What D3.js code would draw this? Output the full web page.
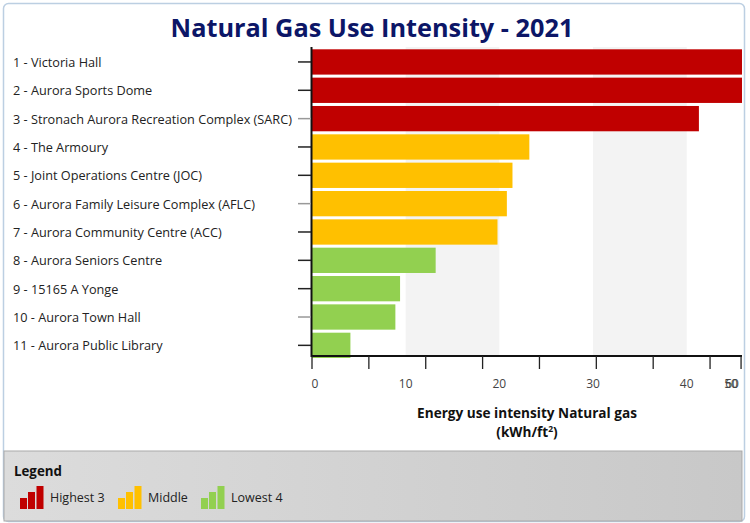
<!DOCTYPE html>
<html>
<head>
<meta charset="utf-8">
<script src="https://cdn.jsdelivr.net/npm/d3@7"></script>
<style>
  body { margin: 0; background: #fff; }
  text { font-family: "Open Sans", "Noto Sans", sans-serif; }
</style>
</head>
<body>
<div id="chart"></div>
<script>

// buildings, in rank order
var buildings = [
  "1 - Victoria Hall",
  "2 - Aurora Sports Dome",
  "3 - Stronach Aurora Recreation Complex (SARC)",
  "4 - The Armoury",
  "5 - Joint Operations Centre (JOC)",
  "6 - Aurora Family Leisure Complex (AFLC)",
  "7 - Aurora Community Centre (ACC)",
  "8 - Aurora Seniors Centre",
  "9 - 15165 A Yonge",
  "10 - Aurora Town Hall",
  "11 - Aurora Public Library"
];

// natural gas EUI, kWh/ft2 (top two run off the axis)
var gasUse = [45.9, 45.9, 41.3, 23.2, 21.4, 20.8, 19.8, 13.2, 9.4, 8.9, 4.1];

// group of each bar
var groups = ["Highest 3", "Highest 3", "Highest 3",
              "Middle", "Middle", "Middle", "Middle",
              "Lowest 4", "Lowest 4", "Lowest 4", "Lowest 4"];

var legendNames = ["Highest 3", "Middle", "Lowest 4"];
var legendColors = ["#c00000", "#ffc000", "#92d050"];

// axis
var xMax = 45.9;
var tickLabels = [0, 10, 20, 30, 40];
var endLabels = ["50", "60"];
var tickMarks = [0, 6.07, 12.14, 18.21, 24.28, 30.35, 36.42, 42.49, 45.8];
var bandStarts = [10, 30];

var W = 750, H = 523;

var svg = d3.select("#chart")
  .append("svg")
    .attr("width", W)
    .attr("height", H);

// outer frame
svg.append("rect")
  .attr("x", 3.5).attr("y", 3.5)
  .attr("width", 741).attr("height", 518)
  .attr("rx", 5)
  .style("fill", "#fff")
  .style("stroke", "#bccfe2")
  .style("stroke-width", 1.5);

// title
svg.append("text")
  .attr("x", 372)
  .attr("y", 37)
  .style("text-anchor", "middle")
  .style("font-size", "25.3px")
  .style("font-weight", 700)
  .style("fill", "#0c1667")
  .text("Natural Gas Use Intensity - 2021");

var color = d3.scaleOrdinal()
  .domain(legendNames)
  .range(legendColors);

var x = d3.scaleLinear()
  .domain([0, xMax])
  .range([312, 742])
  .clamp(true);

var y = d3.scaleBand()
  .domain(buildings)
  .range([49.3, 358])
  .paddingInner(0.107)
  .paddingOuter(0);

var axisY = 356;

// alternating grey bands
svg.append("g")
  .selectAll("rect")
  .data(bandStarts)
  .enter()
  .append("rect")
    .attr("x", function(d) { return x(d); })
    .attr("y", 47)
    .attr("width", function(d) { return x(d + 10) - x(d); })
    .attr("height", axisY - 47)
    .style("fill", "#f3f3f3");

// bars
svg.append("g")
  .selectAll("rect")
  .data(gasUse)
  .enter()
  .append("rect")
    .attr("x", x(0))
    .attr("y", function(d, i) { return y(buildings[i]); })
    .attr("width", function(d) { return x(d) - x(0); })
    .attr("height", y.bandwidth())
    .style("fill", function(d, i) { return color(groups[i]); });

// y axis: line, ticks, labels
svg.append("line")
  .attr("x1", 311.5).attr("x2", 311.5)
  .attr("y1", 47).attr("y2", axisY + 1)
  .style("stroke", "#111")
  .style("stroke-width", 2);

var yTicks = svg.append("g")
  .selectAll("g")
  .data(buildings)
  .enter()
  .append("g")
    .attr("transform", function(d) { return "translate(0," + (y(d) + y.bandwidth() / 2) + ")"; });

yTicks.append("line")
  .attr("x1", 298).attr("x2", 311)
  .style("stroke", function(d, i) { return (i == 2 || i == 5 || i == 9) ? "#999" : "#222"; })
  .style("stroke-width", 1.5);

yTicks.append("text")
  .attr("x", 13)
  .attr("dy", "0.4em")
  .style("font-size", "12.7px")
  .style("fill", "#222")
  .text(function(d) { return d; });

// x axis
svg.append("line")
  .attr("x1", 311).attr("x2", 742)
  .attr("y1", axisY).attr("y2", axisY)
  .style("stroke", "#111")
  .style("stroke-width", 2);

svg.append("g")
  .selectAll("line")
  .data(tickMarks)
  .enter()
  .append("line")
    .attr("x1", function(d) { return x(d); })
    .attr("x2", function(d) { return x(d); })
    .attr("y1", axisY)
    .attr("y2", 369)
    .style("stroke", "#222")
    .style("stroke-width", 1.3);

svg.append("g")
  .selectAll("text")
  .data(tickLabels)
  .enter()
  .append("text")
    .attr("x", function(d) { return x(d) + (d == 0 ? 3 : 0); })
    .attr("y", 388)
    .style("text-anchor", "middle")
    .style("font-size", "12px")
    .style("fill", "#444")
    .text(function(d) { return d; });

// the last two labels sit on top of each other at the axis end
svg.append("g")
  .selectAll("text")
  .data(endLabels)
  .enter()
  .append("text")
    .attr("x", function(d, i) { return 731 + i; })
    .attr("y", 388)
    .style("text-anchor", "middle")
    .style("font-size", "12px")
    .style("fill", "#444")
    .text(function(d) { return d; });

// x axis title
var xTitle = svg.append("text")
  .attr("x", 527)
  .attr("y", 418)
  .style("text-anchor", "middle")
  .style("font-size", "13.6px")
  .style("font-weight", 700)
  .style("fill", "#111");
xTitle.append("tspan").text("Energy use intensity Natural gas");
var t2 = svg.append("text")
  .attr("x", 527)
  .attr("y", 437)
  .style("text-anchor", "middle")
  .style("font-size", "13.6px")
  .style("font-weight", 700)
  .style("fill", "#111");
t2.append("tspan").text("(kWh/ft");
t2.append("tspan").attr("dy", "-5").style("font-size", "8.5px").text("2");
t2.append("tspan").attr("dy", "5").text(")");

// legend panel
var grad = svg.append("defs").append("linearGradient")
  .attr("id", "legendFill");
grad.append("stop").attr("offset", "0%").attr("stop-color", "#dcdcdc");
grad.append("stop").attr("offset", "100%").attr("stop-color", "#c8c8c8");

svg.append("rect")
  .attr("x", 4).attr("y", 451)
  .attr("width", 738).attr("height", 70)
  .style("fill", "url(#legendFill)")
  .style("stroke", "#a9a9a9")
  .style("stroke-width", 1);

svg.append("text")
  .attr("x", 14)
  .attr("y", 476)
  .style("font-size", "13.3px")
  .style("font-weight", 700)
  .style("fill", "#111")
  .text("Legend");

var legendX = [20, 118, 201];
var iconBars = [[0, 11], [8, 17], [16.5, 23]];

var items = svg.append("g")
  .selectAll("g")
  .data(legendNames)
  .enter()
  .append("g")
    .attr("transform", function(d, i) { return "translate(" + legendX[i] + ",509)"; });

items.each(function(name, i) {
  d3.select(this).selectAll("rect")
    .data(iconBars)
    .enter()
    .append("rect")
      .attr("x", function(b) { return b[0]; })
      .attr("y", function(b) { return -b[1]; })
      .attr("width", 7)
      .attr("height", function(b) { return b[1]; })
      .style("fill", legendColors[i]);
});

items.append("text")
  .attr("x", 30)
  .attr("y", -7)
  .style("font-size", "12.5px")
  .style("fill", "#222")
  .text(function(d) { return d; });

</script>
</body>
</html>
